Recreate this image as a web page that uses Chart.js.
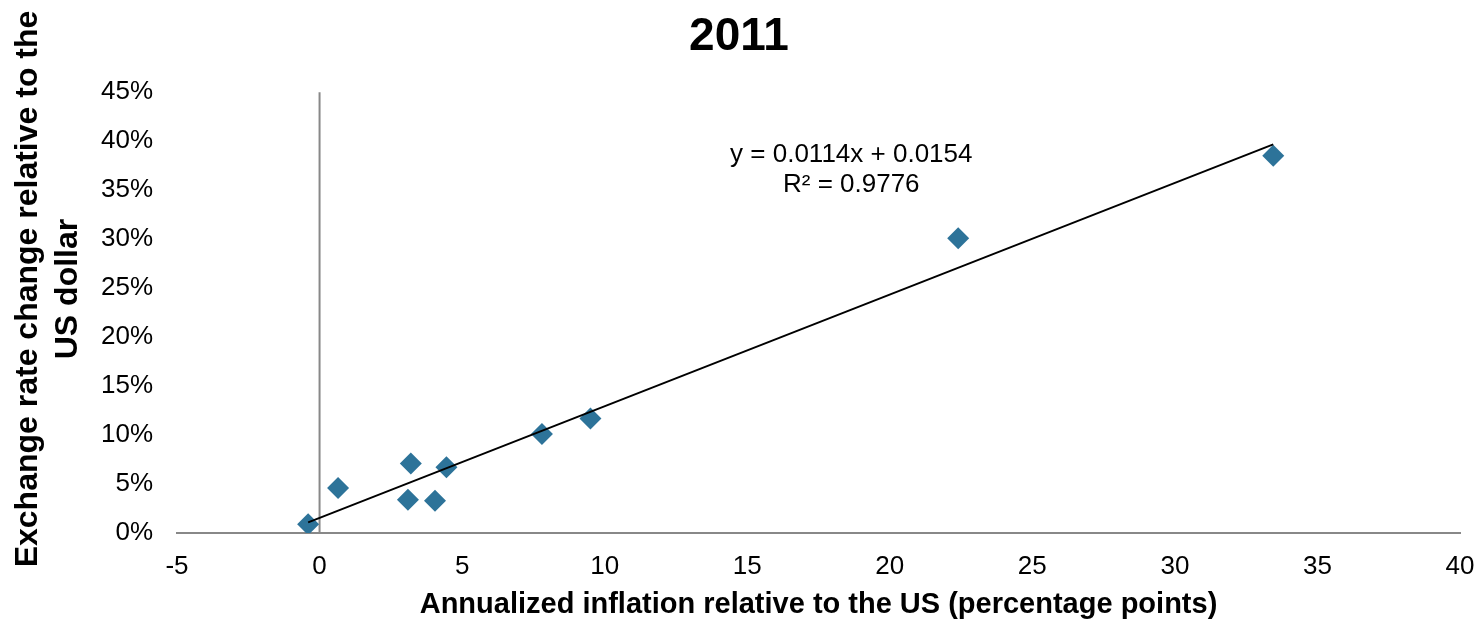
<!DOCTYPE html>
<html lang="en">
<head>
  <meta charset="UTF-8" />
  <title>Exchange rate vs inflation, 2011</title>
  <style>
    body {
      background: #ffffff;
      margin: 0;
    }
    canvas {
      display: block;
    }
  </style>
  <script src="https://cdn.jsdelivr.net/npm/chart.js"></script>
</head>
<body>
  <canvas id="fxChart" width="1478" height="622"></canvas>

  <script>
    // data
    const inflationDiff = [-0.4, 0.65, 3.1, 3.2, 4.05, 4.45, 7.8, 9.5, 22.4, 33.45];
    const rateChange = [0.009, 0.046, 0.034, 0.071, 0.033, 0.067, 0.101, 0.117, 0.301, 0.385];

    // linear trendline as printed on the chart
    const trendSlope = 0.0114;
    const trendIntercept = 0.0154;
    const trendRange = [-0.4, 33.45];
    const trendLabel = ['y = 0.0114x + 0.0154', 'R\u00b2 = 0.9776'];

    const xTicks = [-5, 0, 5, 10, 15, 20, 25, 30, 35, 40];
    const yTicks = [0, 0.05, 0.10, 0.15, 0.20, 0.25, 0.30, 0.35, 0.40, 0.45];
    const yTitle = ['Exchange rate change relative to the', 'US dollar'];

    const FONT = '"Liberation Sans", Arial, sans-serif';

    const points = inflationDiff.map((x, i) => ({ x: x, y: rateChange[i] }));
    const trend = trendRange.map(x => ({ x: x, y: trendSlope * x + trendIntercept }));

    // vertical axis through x = 0, equation text, rotated y title
    const extras = {
      id: 'extras',
      beforeDatasetsDraw(chart) {
        const { ctx, scales: { x, y } } = chart;
        const px = x.getPixelForValue(0);
        ctx.save();
        ctx.strokeStyle = '#888888';
        ctx.lineWidth = 2;
        ctx.beginPath();
        ctx.moveTo(px, y.getPixelForValue(0.45));
        ctx.lineTo(px, y.getPixelForValue(0));
        ctx.stroke();
        ctx.restore();
      },
      afterDatasetsDraw(chart) {
        const { ctx, scales: { x, y } } = chart;
        ctx.save();
        ctx.fillStyle = '#000000';
        ctx.font = '26px ' + FONT;
        ctx.textAlign = 'center';
        ctx.textBaseline = 'middle';
        const cx = x.getPixelForValue(18.65);
        ctx.fillText(trendLabel[0], cx, y.getPixelForValue(0.386));
        ctx.fillText(trendLabel[1], cx, y.getPixelForValue(0.355));

        // y axis title, sits a bit above the plot's middle like the original
        ctx.translate(28, 289);
        ctx.rotate(-Math.PI / 2);
        ctx.font = 'bold 32px ' + FONT;
        ctx.fillText(yTitle[0], 0, 0);
        ctx.fillText(yTitle[1], 0, 40);
        ctx.restore();
      }
    };

    const ctx = document.getElementById('fxChart').getContext('2d');
    const chart = new Chart(ctx, {
      type: 'scatter',
      data: {
        datasets: [
          {
            label: 'Trend',
            data: trend,
            showLine: true,
            borderColor: '#000000',
            borderWidth: 2,
            pointRadius: 0,
            order: 0
          },
          {
            label: 'Countries',
            data: points,
            pointStyle: 'rectRot',
            pointRadius: 11,
            backgroundColor: '#2d7399',
            borderColor: '#2d7399',
            borderWidth: 0,
            order: 1
          }
        ]
      },
      options: {
        responsive: false,
        animation: false,
        layout: { padding: 0 },
        scales: {
          x: {
            type: 'linear',
            min: -5,
            max: 40,
            afterBuildTicks(scale) { scale.ticks = xTicks.map(v => ({ value: v })); },
            afterFit(scale) {
              scale.height = 89;
              scale.paddingLeft = 0;
              scale.paddingRight = 18;
            },
            grid: { display: false, drawTicks: false },
            border: { display: true, color: '#888888', width: 2 },
            ticks: {
              color: '#000000',
              padding: 18,
              maxRotation: 0,
              font: { family: FONT, size: 26 }
            },
            title: {
              display: true,
              text: 'Annualized inflation relative to the US (percentage points)',
              color: '#000000',
              padding: { top: 0, bottom: 0 },
              font: { family: FONT, size: 29, weight: 'bold' }
            }
          },
          y: {
            type: 'linear',
            min: 0,
            max: 0.45,
            afterBuildTicks(scale) { scale.ticks = yTicks.map(v => ({ value: v })); },
            afterFit(scale) { scale.width = 177; },
            grid: { display: false, drawTicks: false },
            border: { display: false },
            ticks: {
              color: '#000000',
              padding: 24,
              font: { family: FONT, size: 26 },
              callback: v => Math.round(v * 100) + '%'
            },
            title: { display: false }
          }
        },
        plugins: {
          legend: { display: false },
          tooltip: { enabled: false },
          title: {
            display: true,
            text: '2011',
            color: '#000000',
            padding: { top: 10, bottom: 27 },
            font: { family: FONT, size: 46, weight: 'bold' }
          }
        }
      },
      plugins: [extras]
    });
  </script>
</body>
</html>
